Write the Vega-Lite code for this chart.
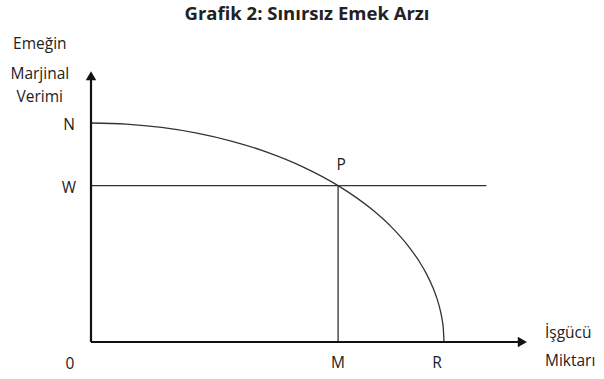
{
  "$schema": "https://vega.github.io/schema/vega-lite/v6.json",
  "width": 604,
  "height": 379,
  "autosize": {"type": "fit", "contains": "padding"},
  "padding": 0,
  "background": "white",
  "config": {"view": {"stroke": null}},
  "datasets": {
    "curve": [
      {"x": 0, "y": 100}, {"x": 10, "y": 99.5}, {"x": 20, "y": 97.98}, {"x": 30, "y": 95.39},
      {"x": 40, "y": 91.65}, {"x": 50, "y": 86.6}, {"x": 60, "y": 80}, {"x": 70, "y": 71.41},
      {"x": 80, "y": 60}, {"x": 85, "y": 52.68}, {"x": 90, "y": 43.59}, {"x": 93, "y": 36.76},
      {"x": 95, "y": 31.22}, {"x": 97, "y": 24.31}, {"x": 98, "y": 19.9}, {"x": 99, "y": 14.11},
      {"x": 99.5, "y": 9.99}, {"x": 99.8, "y": 6.32}, {"x": 100, "y": 0}
    ],
    "guides": [
      {"x": 0, "y": 71.4, "x2": 112, "y2": 71.4},
      {"x": 70, "y": 0, "x2": 70, "y2": 71.4}
    ],
    "axes": [
      {"x": 0, "y": 0, "x2": 121, "y2": 0},
      {"x": 0, "y": 0, "x2": 0, "y2": 120}
    ],
    "arrows": [
      {"x": 122.2, "y": 0, "shape": "triangle-right"},
      {"x": 0, "y": 121.6, "shape": "triangle-up"}
    ],
    "origin": [
      {"label": "0", "x": 0, "y": 0}
    ],
    "xlabels": [
      {"label": "M", "x": 70, "y": 0},
      {"label": "R", "x": 98, "y": 0}
    ],
    "ylabels": [
      {"label": "N", "x": 0, "y": 100},
      {"label": "W", "x": 0, "y": 71.4}
    ],
    "points": [
      {"label": "P", "x": 70, "y": 71.4}
    ],
    "ytitle": [
      {"label": "Emeğin", "x": -14.5, "y": 136},
      {"label": "Marjinal", "x": -14.5, "y": 122.6},
      {"label": "Verimi", "x": -14.5, "y": 111.8}
    ],
    "xtitle": [
      {"label": "İşgücü", "x": 128.6, "y": 4},
      {"label": "Miktarı", "x": 128.6, "y": -8.7}
    ],
    "title": [
      {"label": "Grafik 2: Sınırsız Emek Arzı", "x": 61.2, "y": 149.6}
    ]
  },
  "encoding": {
    "x": {"field": "x", "type": "quantitative", "scale": {"domain": [-25.78, 145.33], "nice": false, "zero": false}, "axis": null},
    "y": {"field": "y", "type": "quantitative", "scale": {"domain": [-16.89, 156.16], "nice": false, "zero": false}, "axis": null}
  },
  "layer": [
    {
      "data": {"name": "curve"},
      "mark": {"type": "line", "color": "#333333", "strokeWidth": 1.3, "interpolate": "monotone"},
      "encoding": {"order": {"field": "x", "type": "quantitative"}}
    },
    {
      "data": {"name": "guides"},
      "mark": {"type": "rule", "color": "#333333", "strokeWidth": 1.3},
      "encoding": {"x2": {"field": "x2"}, "y2": {"field": "y2"}}
    },
    {
      "data": {"name": "axes"},
      "mark": {"type": "rule", "color": "#111111", "strokeWidth": 2.2},
      "encoding": {"x2": {"field": "x2"}, "y2": {"field": "y2"}}
    },
    {
      "data": {"name": "arrows"},
      "mark": {"type": "point", "filled": true, "color": "#111111", "opacity": 1, "size": 110},
      "encoding": {"shape": {"field": "shape", "type": "nominal", "scale": null, "legend": null}}
    },
    {
      "data": {"name": "origin"},
      "mark": {"type": "text", "font": "Open Sans", "fontSize": 15.5, "color": "#222222", "dx": -21, "dy": 22, "align": "center", "baseline": "middle"},
      "encoding": {"text": {"field": "label"}}
    },
    {
      "data": {"name": "xlabels"},
      "mark": {"type": "text", "font": "Open Sans", "fontSize": 15.5, "color": "#222222", "dy": 21, "align": "center", "baseline": "middle"},
      "encoding": {"text": {"field": "label"}}
    },
    {
      "data": {"name": "ylabels"},
      "mark": {"type": "text", "font": "Open Sans", "fontSize": 15.5, "color": "#222222", "dx": -22, "dy": 2, "align": "center", "baseline": "middle"},
      "encoding": {"text": {"field": "label"}}
    },
    {
      "data": {"name": "points"},
      "mark": {"type": "text", "font": "Open Sans", "fontSize": 15.5, "color": "#222222", "dy": -21, "dx": 3, "align": "center", "baseline": "middle"},
      "encoding": {"text": {"field": "label"}}
    },
    {
      "data": {"name": "ytitle"},
      "mark": {"type": "text", "font": "Open Sans", "fontSize": 15.5, "color": "#222222", "align": "center", "baseline": "middle"},
      "encoding": {"text": {"field": "label"}}
    },
    {
      "data": {"name": "xtitle"},
      "mark": {"type": "text", "font": "Open Sans", "fontSize": 15.5, "color": "#222222", "align": "left", "baseline": "middle"},
      "encoding": {"text": {"field": "label"}}
    },
    {
      "data": {"name": "title"},
      "mark": {"type": "text", "font": "Open Sans", "fontSize": 18.5, "fontWeight": "bold", "color": "#222222", "align": "center", "baseline": "middle"},
      "encoding": {"text": {"field": "label"}}
    }
  ]
}
